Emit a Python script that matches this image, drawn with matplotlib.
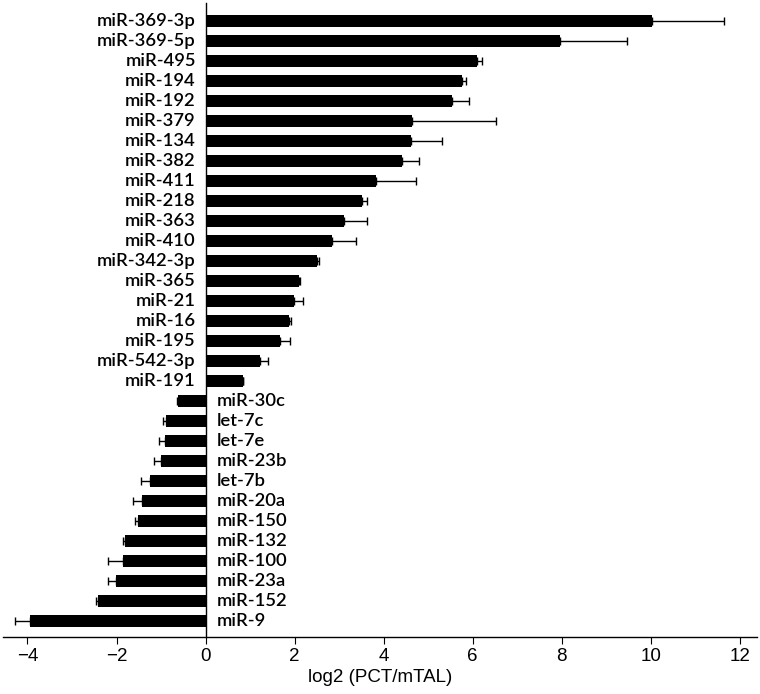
import matplotlib
matplotlib.use("Agg")
import matplotlib.pyplot as plt
import numpy as np

# miRNA names, top to bottom
mirnas = ["miR-369-3p", "miR-369-5p", "miR-495", "miR-194", "miR-192", "miR-379",
          "miR-134", "miR-382", "miR-411", "miR-218", "miR-363", "miR-410",
          "miR-342-3p", "miR-365", "miR-21", "miR-16", "miR-195", "miR-542-3p",
          "miR-191", "miR-30c", "let-7c", "let-7e", "miR-23b", "let-7b",
          "miR-20a", "miR-150", "miR-132", "miR-100", "miR-23a", "miR-152", "miR-9"]

# log2 fold change PCT vs mTAL
log2fc = [10.04, 7.97, 6.09, 5.76, 5.54, 4.63, 4.61, 4.42, 3.83, 3.51, 3.12, 2.84,
          2.51, 2.09, 1.99, 1.88, 1.67, 1.22, 0.84, -0.62, -0.89, -0.91, -0.99,
          -1.25, -1.42, -1.52, -1.80, -1.86, -2.02, -2.41, -3.94]

# error (one-sided, away from zero)
err = [1.60, 1.49, 0.12, 0.09, 0.38, 1.89, 0.71, 0.38, 0.89, 0.11, 0.50, 0.53,
       0.04, 0.04, 0.21, 0.04, 0.23, 0.18, 0.0, 0.02, 0.06, 0.13, 0.17,
       0.21, 0.22, 0.07, 0.06, 0.33, 0.17, 0.04, 0.34]

vals = np.array(log2fc)
errs = np.array(err)
y = np.arange(len(mirnas))

fig = plt.figure(figsize=(7.6, 6.94), dpi=100)
ax = fig.add_axes([3 / 760, 57 / 694, 754 / 760, 634 / 694])

lo = np.where(vals < 0, errs, 0)
hi = np.where(vals > 0, errs, 0)
ax.barh(y, vals, height=0.6, color="black",
        xerr=[lo, hi], error_kw=dict(ecolor="black", elinewidth=1, capsize=3, capthick=1))

for yi, v, name in zip(y, vals, mirnas):
    if v > 0:
        ax.annotate(name, (0, yi), xytext=(-7, 0), textcoords="offset points",
                    ha="right", va="center", fontsize=13.2, family="Lato",
                    weight="semibold")
    else:
        ax.annotate(name, (0, yi), xytext=(8, 0), textcoords="offset points",
                    ha="left", va="center", fontsize=13.2, family="Lato",
                    weight="semibold")

ax.set_ylim(len(mirnas) - 1 + 0.8, -0.9)
ax.set_xlim(-4.55, 12.39)
ax.set_xticks(np.arange(-4, 13, 2))
ax.set_yticks([])

ax.spines["top"].set_visible(False)
ax.spines["right"].set_visible(False)
ax.spines["left"].set_position(("data", 0))
ax.spines["left"].set_linewidth(1)
ax.spines["bottom"].set_linewidth(1)
ax.tick_params(axis="x", direction="out", length=5, labelsize=13.5, pad=3)
for lab in ax.get_xticklabels():
    lab.set_family("Liberation Sans")
ax.set_xlabel("log2 (PCT/mTAL)", fontsize=13.5, family="Liberation Sans", labelpad=3)

fig.savefig("out.png", dpi=100)
